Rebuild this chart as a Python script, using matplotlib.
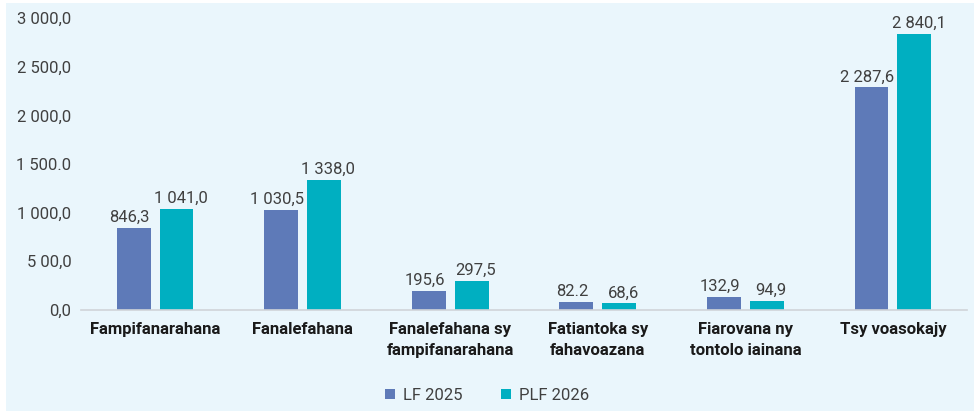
import matplotlib.pyplot as plt
import matplotlib.patches as mpatches
import numpy as np

categories = ["Fampifanarahana", "Fanalefahana", "Fanalefahana sy\nfampifanarahana",
              "Fatiantoka sy\nfahavoazana", "Fiarovana ny\ntontolo iainana", "Tsy voasokajy"]
lf2025 = [846.3, 1030.5, 195.6, 82.2, 132.9, 2287.6]
plf2026 = [1041.0, 1338.0, 297.5, 68.6, 94.9, 2840.1]
lf2025_labels = ["846,3", "1 030,5", "195,6", "82.2", "132,9", "2 287,6"]
plf2026_labels = ["1 041,0", "1 338,0", "297,5", "68,6", "94,9", "2 840,1"]
yticks = [0, 500, 1000, 1500, 2000, 2500, 3000]
ytick_labels = ["0,0", "5 00,0", "1 000,0", "1 500.0", "2 000,0", "2 500,0", "3 000,0"]

plt.rcParams['font.family'] = ['Roboto', 'DejaVu Sans']

bg = '#EAF6FC'
c1 = '#5E7AB8'
c2 = '#00AFC1'
tc = '#404040'

fig = plt.figure(figsize=(9.74, 4.11), dpi=100, facecolor='white')
fig.patches.append(mpatches.Rectangle((6 / 974, 0), 968 / 974, 408 / 411,
                                      transform=fig.transFigure, facecolor=bg,
                                      edgecolor='none', zorder=-10))
ax = fig.add_axes([0.0835, 0.246, 0.909, 0.71])
ax.set_facecolor('none')

x = np.arange(len(categories))
w = 0.23
off = 0.145
b1 = ax.bar(x - off, lf2025, w, color=c1, label="LF 2025")
b2 = ax.bar(x + off, plf2026, w, color=c2, label="PLF 2026")

for rect, lab in zip(b1, lf2025_labels):
    ax.annotate(lab, (rect.get_x() + rect.get_width() / 2, rect.get_height()),
                xytext=(-3, 2), textcoords='offset points', ha='center', va='bottom',
                fontsize=12, color=tc)
for rect, lab in zip(b2, plf2026_labels):
    ax.annotate(lab, (rect.get_x() + rect.get_width() / 2, rect.get_height()),
                xytext=(3, 2), textcoords='offset points', ha='center', va='bottom',
                fontsize=12, color=tc)

ax.set_xlim(-0.5, len(categories) - 0.5)
ax.set_ylim(0, 3000)
ax.set_yticks(yticks)
ax.set_yticklabels(ytick_labels, fontsize=12, color=tc)
ax.set_xticks(x)
ax.set_xticklabels(categories, fontsize=12, fontweight='bold', color='#1a1a1a', linespacing=1.45)
ax.tick_params(axis='both', length=0)
ax.tick_params(axis='x', pad=9)
ax.tick_params(axis='y', pad=7)
for s in ['top', 'right', 'left']:
    ax.spines[s].set_visible(False)
ax.spines['bottom'].set_color('#D0D4D8')
ax.spines['bottom'].set_linewidth(1.2)

fig.legend(handles=[b1, b2], labels=["LF 2025", "PLF 2026"], loc='center',
           bbox_to_anchor=(0.5, 0.038), ncol=2, frameon=False, fontsize=12,
           handlelength=0.6, handleheight=0.6, columnspacing=2.3, handletextpad=0.5,
           labelcolor=tc)

fig.savefig('out.png', dpi=100, facecolor='white')
